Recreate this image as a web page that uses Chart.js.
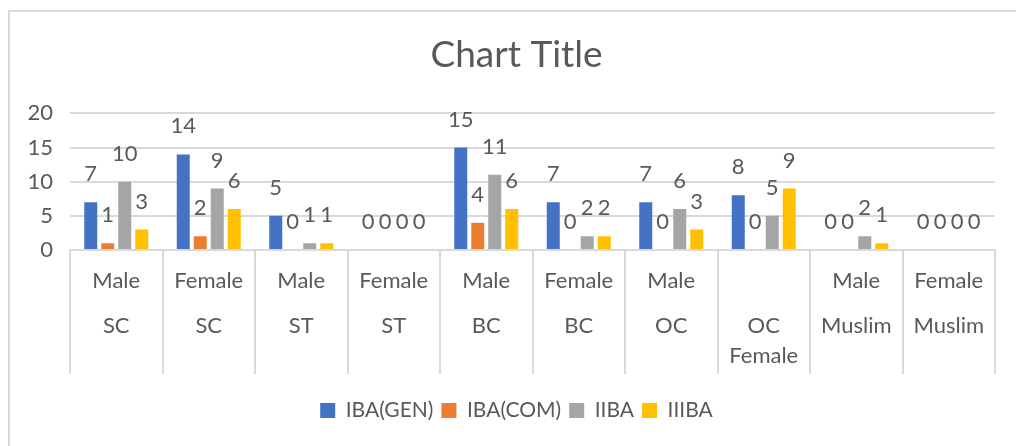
<!DOCTYPE html>
<html>
<head>
<meta charset="utf-8">
<script src="https://cdn.jsdelivr.net/npm/chart.js@4"></script>
<style>
  body { margin: 0; background: #fff; }
  #wrap { position: relative; width: 1016px; height: 446px; }
  #frame { position: absolute; left: 8px; top: 10px; right: 0; bottom: 0;
           border-top: 2px solid #d9d9d9; border-left: 2px solid #d9d9d9; }
</style>
</head>
<body>
<div id="wrap">
  <canvas id="myChart" width="1016" height="446"></canvas>
  <div id="frame"></div>
</div>
<script>
// category labels (lines drawn with 15px line height, blanks give the spacing)
const labels = [
    ['Male', '', '', 'SC'],
    ['Female', '', '', 'SC'],
    ['Male', '', '', 'ST'],
    ['Female', '', '', 'ST'],
    ['Male', '', '', 'BC'],
    ['Female', '', '', 'BC'],
    ['Male', '', '', 'OC'],
    ['', '', '', 'OC', '', 'Female'],
    ['Male', '', '', 'Muslim'],
    ['Female', '', '', 'Muslim'],
]

const ibaGen = [7, 14, 5, 0, 15, 7, 7, 8, 0, 0]
const ibaCom = [1, 2, 0, 0, 4, 0, 0, 0, 0, 0]
const iiba   = [10, 9, 1, 0, 11, 2, 6, 5, 2, 0]
const iiiba  = [3, 6, 1, 0, 6, 2, 3, 9, 1, 0]

const yTicks = [0, 5, 10, 15, 20]

const font = 'Lato'
const textColor = '#595959'
const lineColor = '#d9d9d9'

// value labels on top of the bars
const barLabels = {
    id: 'barLabels',
    afterLayout(chart) {
        // let the y labels use the space left of the axis box (no clipping)
        chart.scales.y.left = 0
    },
    afterDatasetsDraw(chart) {
        const ctx = chart.ctx
        ctx.save()
        ctx.font = '22px ' + font
        ctx.fillStyle = textColor
        ctx.textAlign = 'center'
        ctx.textBaseline = 'alphabetic'
        chart.data.datasets.forEach((ds, i) => {
            chart.getDatasetMeta(i).data.forEach((bar, j) => {
                ctx.fillText(String(ds.data[j]), bar.x, bar.y - 21)
            })
        })
        ctx.restore()
    }
}

const data = {
    labels,
    datasets: [
        { label: 'IBA(GEN)', data: ibaGen, backgroundColor: '#4472C4' },
        { label: 'IBA(COM)', data: ibaCom, backgroundColor: '#ED7D31' },
        { label: 'IIBA', data: iiba, backgroundColor: '#A5A5A5' },
        { label: 'IIIBA', data: iiiba, backgroundColor: '#FFC000' },
    ]
}

const config = {
    type: 'bar',
    data: data,
    options: {
        responsive: false,
        animation: false,
        categoryPercentage: 0.735,
        barPercentage: 0.765,
        layout: {
            padding: { left: 38, right: 21, top: 0, bottom: 15 }
        },
        plugins: {
            title: {
                display: true,
                text: 'Chart Title',
                color: textColor,
                font: { family: font, size: 37, weight: 'normal' },
                padding: { top: 33, bottom: 36 },
            },
            legend: {
                position: 'bottom',
                labels: {
                    color: textColor,
                    font: { family: font, size: 21 },
                    boxWidth: 15,
                    boxHeight: 15,
                    padding: 8,
                },
            },
            tooltip: { enabled: false },
        },
        scales: {
            x: {
                grid: {
                    offset: true,
                    drawOnChartArea: false,
                    drawTicks: true,
                    tickLength: 124,
                    color: lineColor,
                    lineWidth: 2,
                },
                border: { display: true, color: lineColor, width: 2 },
                ticks: {
                    color: textColor,
                    font: { family: font, size: 22, lineHeight: '15px' },
                    padding: -100.5,
                    maxRotation: 0,
                    autoSkip: false,
                },
                afterFit: (scale) => { scale.height = 142 },
            },
            y: {
                min: 0,
                max: 20,
                afterBuildTicks: (scale) => { scale.ticks = yTicks.map(v => ({ value: v })) },
                grid: {
                    drawTicks: false,
                    color: lineColor,
                    lineWidth: 2,
                },
                border: { display: false },
                ticks: {
                    color: textColor,
                    font: { family: font, size: 22 },
                    padding: 17,
                },
                afterFit: (scale) => { scale.width = 32 },
            },
        },
    },
    plugins: [barLabels],
}

const myChart = new Chart(document.getElementById('myChart').getContext('2d'), config)
</script>
</body>
</html>
